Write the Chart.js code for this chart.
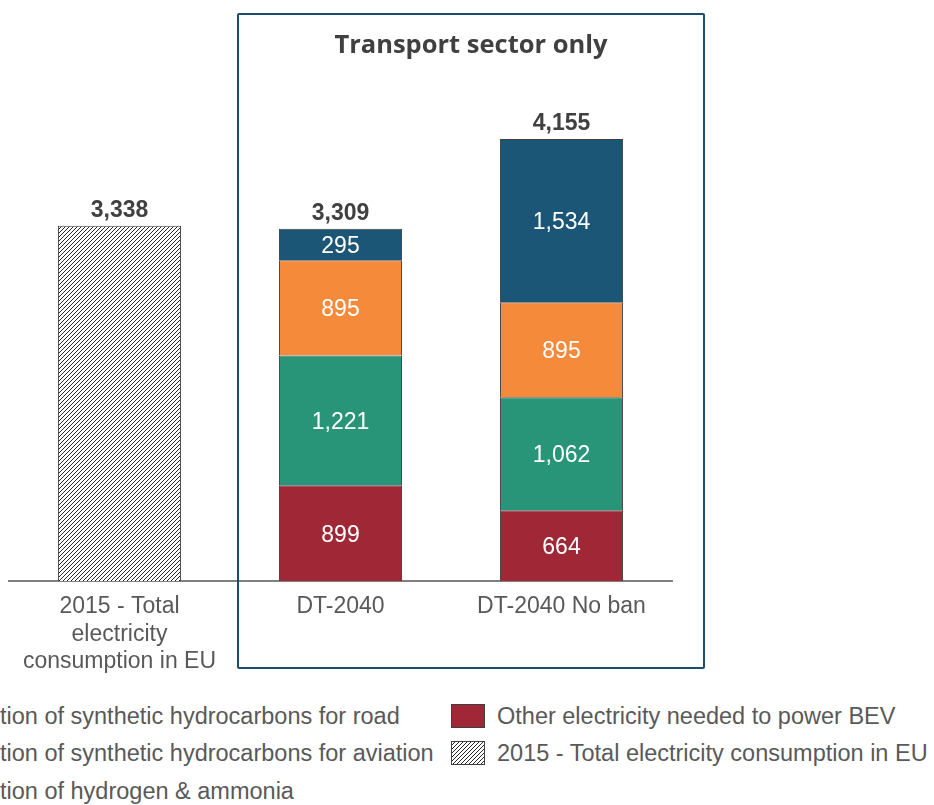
<!DOCTYPE html>
<html>
<head>
<meta charset="utf-8">
<script src="https://cdn.jsdelivr.net/npm/chart.js@4.4.1/dist/chart.umd.min.js"></script>
<style>
html,body{margin:0;padding:0;width:934px;height:805px;overflow:hidden;background:#fff;font-family:"Liberation Sans",Arial,sans-serif;}
#wrap{position:absolute;left:0;top:0;width:934px;height:700px;}
#box{position:absolute;left:237px;top:13px;width:468px;height:656px;border:2.5px solid #1d4d6c;box-sizing:border-box;border-radius:2px;pointer-events:none;}
#title{position:absolute;left:237px;width:468px;top:27px;height:32px;line-height:32px;text-align:center;font-family:"Open Sans",Lato,sans-serif;font-weight:700;font-size:25.5px;color:#404040;}
.lt{position:absolute;height:30px;line-height:30px;font-size:23.5px;color:#595959;white-space:nowrap;}
.lm{position:absolute;width:34px;height:24px;box-sizing:border-box;border:1px solid #404040;}
</style>
</head>
<body>
<div id="wrap"><canvas id="c" width="934" height="700"></canvas></div>
<div id="box"></div>
<div id="title">Transport sector only</div>
<div id="legend"></div>
<script>
// ---- data ----
const categories = [["2015 - Total", "electricity", "consumption in EU"], "DT-2040", "DT-2040 No ban"];
const bevOther = [null, 899, 664];
const hydrogenAmmonia = [null, 1221, 1062];
const synthAviation = [null, 895, 895];
const synthRoad = [null, 295, 1534];
const total2015 = [3338, null, null];
const totalLabels = [3338, 3309, 4155];
const legendLabels = [
  "Electricity for production of synthetic hydrocarbons for road",
  "Electricity for production of synthetic hydrocarbons for aviation",
  "Electricity for production of hydrogen & ammonia",
  "Other electricity needed to power BEV",
  "2015 - Total electricity consumption in EU"
];
const hiddenPrefix = "Electricity for produc";

// ---- styles ----
const colRed = '#a02736', colGreen = '#299578', colOrange = '#f68a3b', colBlue = '#1c5677';

function hatchPattern() {
  const n = 4;
  const c = document.createElement('canvas');
  c.width = c.height = n;
  const g = c.getContext('2d');
  g.fillStyle = '#fff'; g.fillRect(0, 0, n, n);
  g.strokeStyle = '#2a2a2a'; g.lineWidth = 1.0;
  g.beginPath();
  g.moveTo(0, n); g.lineTo(n, 0);
  g.moveTo(-1, 1); g.lineTo(1, -1);
  g.moveTo(n - 1, n + 1); g.lineTo(n + 1, n - 1);
  g.stroke();
  return g.createPattern(c, 'repeat');
}
const hatch = hatchPattern();

const fmt = v => v.toLocaleString('en-US');

const labelPlugin = {
  id: 'valueLabels',
  afterDatasetsDraw(chart) {
    const ctx = chart.ctx;
    ctx.save();
    ctx.textAlign = 'center';
    ctx.textBaseline = 'middle';
    const tops = [];
    chart.data.datasets.forEach((ds, i) => {
      const meta = chart.getDatasetMeta(i);
      meta.data.forEach((bar, j) => {
        const v = ds.data[j];
        if (v == null) return;
        const p = bar.getProps(['x', 'y', 'base'], true);
        if (tops[j] === undefined || p.y < tops[j].y) tops[j] = { x: p.x, y: p.y };
        if (ds.inside) {
          ctx.font = '23px "Liberation Sans", Arial, sans-serif';
          ctx.fillStyle = '#ffffff';
          ctx.fillText(fmt(v), p.x, (p.y + p.base) / 2 + 2);
        }
      });
    });
    ctx.font = 'bold 23px "Liberation Sans", Arial, sans-serif';
    ctx.fillStyle = '#404040';
    totalLabels.forEach((t, j) => {
      if (tops[j]) ctx.fillText(fmt(t), tops[j].x, tops[j].y - 15);
    });
    ctx.restore();
  }
};

const common = { borderColor: '#404040', borderWidth: 1, categoryPercentage: 1, barPercentage: 0.557 };

new Chart(document.getElementById('c'), {
  type: 'bar',
  data: {
    labels: categories,
    datasets: [
      Object.assign({ label: legendLabels[3], data: bevOther, backgroundColor: colRed, inside: true }, common),
      Object.assign({ label: legendLabels[2], data: hydrogenAmmonia, backgroundColor: colGreen, inside: true }, common),
      Object.assign({ label: legendLabels[1], data: synthAviation, backgroundColor: colOrange, inside: true }, common),
      Object.assign({ label: legendLabels[0], data: synthRoad, backgroundColor: colBlue, inside: true }, common),
      Object.assign({ label: legendLabels[4], data: total2015, backgroundColor: hatch, inside: false }, common)
    ]
  },
  options: {
    responsive: false,
    animation: false,
    events: [],
    layout: { padding: { left: 9, right: 262, top: 49, bottom: 0 } },
    plugins: { legend: { display: false }, tooltip: { enabled: false }, title: { display: false } },
    scales: {
      x: {
        stacked: true,
        grid: { display: false, drawTicks: false },
        border: { display: true, color: '#808080', width: 2 },
        ticks: {
          padding: 12,
          color: '#595959',
          font: { family: '"Liberation Sans", Arial, sans-serif', size: 23, lineHeight: 1.2 },
          maxRotation: 0, autoSkip: false
        },
        afterFit(scale) { scale.height = 700 - 581; }
      },
      y: {
        stacked: true, display: false, min: 0, max: 5000
      }
    }
  },
  plugins: [labelPlugin]
});

// ---- HTML legend (two columns, column-major) ----
(function () {
  const leg = document.getElementById('legend');
  const mctx = document.createElement('canvas').getContext('2d');
  mctx.font = '23.5px "Liberation Sans"';
  const off = mctx.measureText(hiddenPrefix).width;
  const rows = [716, 753, 791];
  const fills = [colBlue, colOrange, colGreen, colRed, 'hatch'];
  legendLabels.forEach((lab, i) => {
    const col = i < 3 ? 0 : 1;
    const row = i < 3 ? i : i - 3;
    const cy = rows[row];
    const textLeft = col === 0 ? -off : 497;
    const m = document.createElement('div');
    m.className = 'lm';
    m.style.left = (textLeft - 46) + 'px';
    m.style.top = (cy - 12) + 'px';
    if (fills[i] === 'hatch') {
      m.style.background = 'repeating-linear-gradient(-45deg,#fff 0px,#fff 1.8px,#2a2a2a 1.8px,#2a2a2a 2.8px)';
    } else {
      m.style.background = fills[i];
    }
    leg.appendChild(m);
    const t = document.createElement('div');
    t.className = 'lt';
    t.style.left = textLeft + 'px';
    t.style.top = (cy - 15) + 'px';
    t.textContent = lab;
    leg.appendChild(t);
  });
})();
</script>
</body>
</html>
